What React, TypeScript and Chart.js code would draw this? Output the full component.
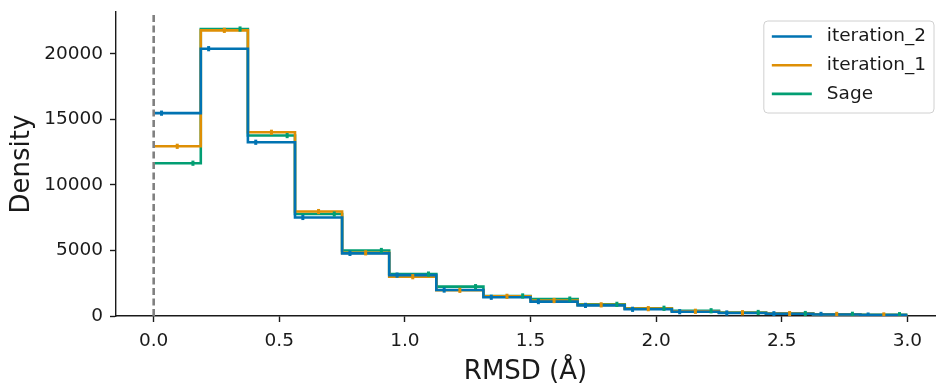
import React, { useEffect, useRef } from "react";
import { Chart, registerables } from "chart.js";

Chart.register(...registerables);

// ---- data ----
const binEdges = [
  0, 0.1875, 0.375, 0.5625, 0.75, 0.9375, 1.125, 1.3125, 1.5, 1.6875, 1.875,
  2.0625, 2.25, 2.4375, 2.625, 2.8125, 3.0,
];
const iteration2 = [15480, 20400, 13260, 7520, 4780, 3120, 1980, 1430, 1100, 810, 510, 330, 230, 170, 120, 70];
const iteration1 = [12950, 21800, 14020, 7970, 4820, 3000, 1960, 1500, 1180, 850, 560, 360, 250, 180, 120, 80];
const sage = [11660, 21900, 13770, 7780, 5000, 3200, 2240, 1530, 1290, 890, 590, 400, 270, 190, 130, 100];
const seriesNames = ["iteration_2", "iteration_1", "Sage"];
const seriesColors = ["#0173b2", "#de8f05", "#029e73"];
const dodge = [-1 / 3, 0, 1 / 3];
const xTicks = [0, 0.5, 1.0, 1.5, 2.0, 2.5, 3.0];
const yTicks = [0, 5000, 10000, 15000, 20000];
const xLabel = "RMSD (Å)";
const yLabel = "Density";

const FONT = '"DejaVu Sans", sans-serif';
const INK = "#1a1a1a";
const TICK_SIZE = 18.5;
const LABEL_SIZE = 26;

function stepPoints(vals: number[]) {
  const pts = vals.map((v, i) => ({ x: binEdges[i], y: v }));
  pts.push({ x: binEdges[binEdges.length - 1], y: vals[vals.length - 1] });
  return pts;
}

function markerPoints(vals: number[], k: number) {
  return vals.map((v, i) => {
    const w = binEdges[i + 1] - binEdges[i];
    return { x: binEdges[i] + w / 2 + dodge[k] * w, y: v };
  });
}

const zeroLinePlugin = {
  id: "zeroLine",
  afterDatasetsDraw(chart: any) {
    const { ctx, chartArea, scales } = chart;
    const x = scales.x.getPixelForValue(0);
    ctx.save();
    ctx.strokeStyle = "#808080";
    ctx.lineWidth = 2.6;
    ctx.setLineDash([7, 3.5]);
    ctx.beginPath();
    ctx.moveTo(x, chartArea.bottom);
    ctx.lineTo(x, chartArea.top);
    ctx.stroke();
    ctx.restore();
  },
};

const boxLegendPlugin = {
  id: "boxLegend",
  afterDraw(chart: any) {
    const { ctx, chartArea } = chart;
    ctx.save();
    ctx.font = `${TICK_SIZE}px ${FONT}`;
    const maxW = Math.max(...seriesNames.map((n) => ctx.measureText(n).width));
    const padL = 8, handleLen = 40, gap = 15, padR = 8, rowH = 28.7;
    const boxW = padL + handleLen + gap + maxW + padR;
    const boxH = 92;
    const right = chartArea.right - 1;
    const left = right - boxW;
    const top = chartArea.top + 9;
    const r = 4;
    ctx.beginPath();
    ctx.moveTo(left + r, top);
    ctx.lineTo(left + boxW - r, top);
    ctx.arcTo(left + boxW, top, left + boxW, top + r, r);
    ctx.lineTo(left + boxW, top + boxH - r);
    ctx.arcTo(left + boxW, top + boxH, left + boxW - r, top + boxH, r);
    ctx.lineTo(left + r, top + boxH);
    ctx.arcTo(left, top + boxH, left, top + boxH - r, r);
    ctx.lineTo(left, top + r);
    ctx.arcTo(left, top, left + r, top, r);
    ctx.closePath();
    ctx.fillStyle = "rgba(255,255,255,0.8)";
    ctx.fill();
    ctx.strokeStyle = "#d0d0d0";
    ctx.lineWidth = 1;
    ctx.stroke();
    seriesNames.forEach((name, i) => {
      const y = top + 15.5 + i * rowH;
      ctx.strokeStyle = seriesColors[i];
      ctx.lineWidth = 2.6;
      ctx.beginPath();
      ctx.moveTo(left + padL, y);
      ctx.lineTo(left + padL + handleLen, y);
      ctx.stroke();
      ctx.fillStyle = INK;
      ctx.textBaseline = "middle";
      ctx.textAlign = "left";
      ctx.fillText(name, left + padL + handleLen + gap, y);
    });
    ctx.restore();
  },
};

export default function App() {
  const ref = useRef<HTMLCanvasElement | null>(null);

  useEffect(() => {
    if (!ref.current) return;
    const series = [iteration2, iteration1, sage];
    const markerSets = series.map((vals, k) => ({
      type: "line" as const,
      label: seriesNames[k] + " err",
      data: markerPoints(vals, k),
      showLine: false,
      pointStyle: "line",
      rotation: 90,
      pointRadius: 2.6,
      pointHoverRadius: 2.6,
      pointBorderWidth: 3,
      borderColor: seriesColors[k],
      backgroundColor: seriesColors[k],
    }));
    const lineSets = series.map((vals, k) => ({
      type: "line" as const,
      label: seriesNames[k],
      data: stepPoints(vals),
      stepped: "before",
      borderColor: seriesColors[k],
      borderWidth: 2.6,
      pointRadius: 0,
      pointHoverRadius: 0,
      fill: false,
    }));
    const chart = new Chart(ref.current, {
      type: "line",
      data: { datasets: [...markerSets, ...lineSets] as any },
      options: {
        responsive: false,
        animation: false,
        layout: { autoPadding: false, padding: { top: 12, right: 1, left: 0, bottom: 0 } },
        plugins: { legend: { display: false }, tooltip: { enabled: false } },
        scales: {
          x: {
            type: "linear",
            min: -0.15,
            max: 3.11,
            afterBuildTicks: (s: any) => {
              s.ticks = xTicks.map((v) => ({ value: v }));
            },
            afterFit: (s: any) => {
              s.height = 68;
              s.paddingLeft = 0;
              s.paddingRight = 0;
            },
            ticks: {
              font: { family: FONT, size: TICK_SIZE },
              color: INK,
              padding: 8,
              maxRotation: 0,
              callback: (v: any) => Number(v).toFixed(1),
            },
            grid: {
              display: true,
              drawOnChartArea: false,
              drawTicks: true,
              tickLength: 6,
              tickColor: INK,
              tickWidth: 1.4,
            },
            border: { display: true, color: INK, width: 1.4 },
            title: {
              display: true,
              text: xLabel,
              font: { family: FONT, size: LABEL_SIZE, lineHeight: 1.1 },
              color: INK,
              padding: { top: 0, bottom: -3 },
            },
          },
          y: {
            type: "linear",
            min: 0,
            max: 23200,
            afterBuildTicks: (s: any) => {
              s.ticks = yTicks.map((v) => ({ value: v }));
            },
            afterFit: (s: any) => {
              s.width = 116;
              s.paddingTop = 0;
              s.paddingBottom = 0;
            },
            ticks: {
              font: { family: FONT, size: TICK_SIZE },
              color: INK,
              padding: 7,
              callback: (v: any) => String(v),
            },
            grid: {
              display: true,
              drawOnChartArea: false,
              drawTicks: true,
              tickLength: 6,
              tickColor: INK,
              tickWidth: 1.4,
            },
            border: { display: true, color: INK, width: 1.4 },
            title: {
              display: true,
              text: yLabel,
              font: { family: FONT, size: LABEL_SIZE, lineHeight: 1.2 },
              color: INK,
              padding: { top: 7, bottom: 0 },
            },
          },
        },
      },
      plugins: [zeroLinePlugin, boxLegendPlugin],
    } as any);
    return () => chart.destroy();
  }, []);

  return (
    <div style={{ position: "fixed", left: 0, top: 0, width: 936, height: 384, background: "#fff" }}>
      <canvas ref={ref} width={936} height={384} style={{ display: "block" }} />
    </div>
  );
}
